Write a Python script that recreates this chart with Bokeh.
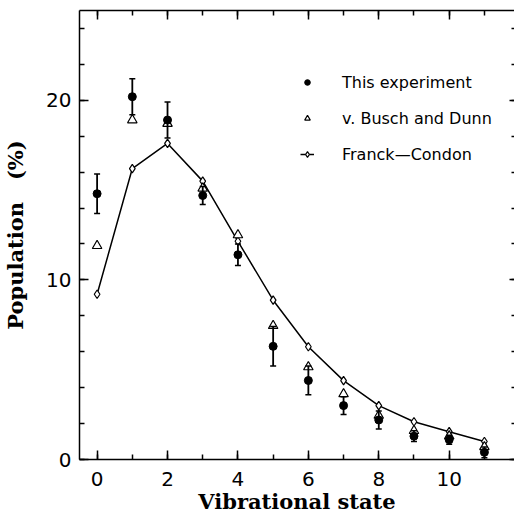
from bokeh.plotting import figure
from bokeh.models import (ColumnDataSource, Whisker, TeeHead, LinearAxis, SingleIntervalTicker,
                          Legend, LegendItem, Range1d, CustomJSTickFormatter)
from bokeh.embed import file_html
from bokeh.resources import INLINE

# ---- data ----
states = [0, 1, 2, 3, 4, 5, 6, 7, 8, 9, 10, 11]
this_experiment = [14.8, 20.2, 18.9, 14.7, 11.4, 6.3, 4.4, 3.0, 2.2, 1.3, 1.1, 0.4]
this_experiment_err = [1.1, 1.0, 1.0, 0.5, 0.6, 1.1, 0.8, 0.5, 0.5, 0.3, 0.25, 0.3]
busch_dunn = [11.9, 18.9, 18.7, 15.1, 12.5, 7.45, 5.15, 3.65, 2.45, 1.6, 1.3, 0.7]
franck_condon = [9.2, 16.2, 17.6, 15.5, 12.15, 8.87, 6.28, 4.39, 3.0, 2.1, 1.55, 1.0]
x_ticks_interval = 2
y_ticks_interval = 10

src = ColumnDataSource(dict(
    x=states,
    exp=this_experiment,
    upper=[v + e for v, e in zip(this_experiment, this_experiment_err)],
    lower=[v - e for v, e in zip(this_experiment, this_experiment_err)],
    bd=busch_dunn,
    fc=franck_condon,
))

p = figure(width=514, height=520, output_backend="svg", toolbar_location=None,
           x_range=Range1d(-0.5, 11.855), y_range=Range1d(0, 25),
           x_axis_type=None, y_axis_type=None,
           min_border_left=79, min_border_top=10, min_border_right=0, min_border_bottom=61)
p.outline_line_color = None
p.background_fill_color = "white"
p.border_fill_color = "white"

TICK_FONT = "DejaVu Sans"
LABEL_FONT = "DejaVu Serif"


def make_axis(interval, minor, labels):
    ax = LinearAxis(ticker=SingleIntervalTicker(interval=interval, num_minor_ticks=minor),
                    major_tick_in=9, major_tick_out=0, minor_tick_in=5, minor_tick_out=0,
                    axis_line_width=1.5, major_tick_line_width=1.5, minor_tick_line_width=1.5,
                    axis_line_color="black", major_tick_line_color="black",
                    minor_tick_line_color="black")
    if labels:
        ax.major_label_text_font = TICK_FONT
        ax.major_label_text_font_size = "20px"
        ax.major_label_text_color = "black"
        ax.axis_label_text_font = LABEL_FONT
        ax.axis_label_text_font_size = "21px"
        ax.axis_label_text_font_style = "bold"
        ax.axis_label_text_color = "black"
    else:
        ax.formatter = CustomJSTickFormatter(code="return ''")
        ax.major_label_standoff = 0
    return ax


xb = make_axis(x_ticks_interval, 2, True)
xb.axis_label = "Vibrational state"
xb.major_label_standoff = 12
xb.axis_label_standoff = 0
p.add_layout(xb, "below")

yl = make_axis(y_ticks_interval, 5, True)
yl.axis_label = "Population\u00a0\u00a0\u00a0(%)"
yl.major_label_standoff = 8
yl.axis_label_standoff = 15
p.add_layout(yl, "left")

xt = make_axis(x_ticks_interval, 2, False)
p.add_layout(xt, "above")
# right frame edge lies just outside the window in the reference: only tick stubs show
yr = make_axis(y_ticks_interval, 5, False)
yr.axis_line_color = None
yr.major_tick_in = 5
yr.minor_tick_in = 3
p.add_layout(yr, "right")

# Franck-Condon curve
fc_line = p.line("x", "fc", source=src, line_color="black", line_width=1.5)
fc_pts = p.scatter("x", "fc", source=src, marker="diamond", size=8.5,
                   fill_color="white", line_color="black", line_width=1.2)

# v. Busch and Dunn
bd_pts = p.scatter("x", "bd", source=src, marker="triangle", size=9.5,
                   fill_color="white", line_color="black", line_width=1.2)

# this experiment with error bars
wk = Whisker(source=src, base="x", upper="upper", lower="lower", line_width=1.8,
             line_color="black",
             upper_head=TeeHead(size=6, line_width=1.5, line_color="black"),
             lower_head=TeeHead(size=6, line_width=1.5, line_color="black"))
wk.level = "glyph"
p.add_layout(wk)
exp_pts = p.scatter("x", "exp", source=src, marker="circle", size=8,
                    fill_color="black", line_color="black")

legend = Legend(items=[
    LegendItem(label="This experiment", renderers=[exp_pts]),
    LegendItem(label="v. Busch and Dunn", renderers=[bd_pts]),
    LegendItem(label="Franck\u2014Condon", renderers=[fc_line, fc_pts]),
], location=(221, 295), glyph_width=14, glyph_height=20, label_height=20, spacing=16,
    label_standoff=28, padding=0, margin=0, border_line_color=None,
    background_fill_alpha=0, label_text_font=TICK_FONT, label_text_font_size="16px",
    label_text_color="black")
p.add_layout(legend)

open("out.html", "w").write(file_html(p, INLINE))
